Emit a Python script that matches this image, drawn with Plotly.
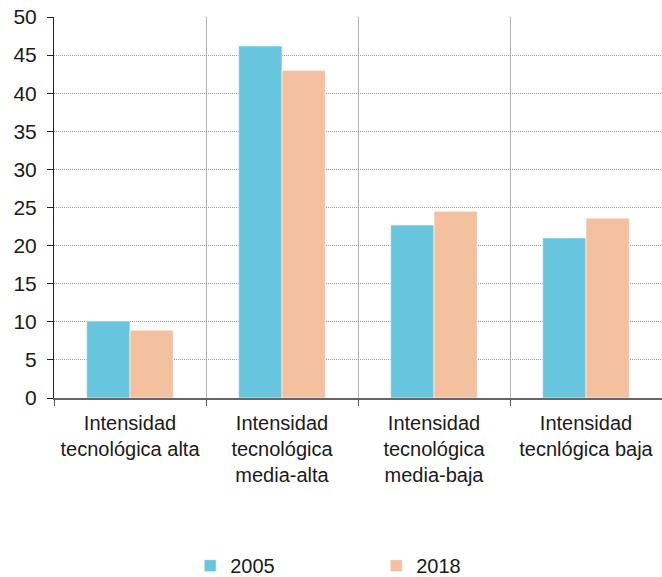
import plotly.graph_objects as go

categories = ["Intensidad<br>tecnológica alta", "Intensidad<br>tecnológica<br>media-alta",
              "Intensidad<br>tecnológica<br>media-baja", "Intensidad<br>tecnlógica baja"]
series_names = ["2005", "2018"]
values_2005 = [10.1, 46.2, 22.7, 21.0]
values_2018 = [8.9, 43.0, 24.5, 23.6]
y_ticks = [0, 5, 10, 15, 20, 25, 30, 35, 40, 45, 50]

colors = ["#67C5DE", "#F4C1A0"]

fig = go.Figure()
for name, vals, col in zip(series_names, [values_2005, values_2018], colors):
    fig.add_trace(go.Bar(x=categories, y=vals, name=name,
                         marker=dict(color=col, line=dict(color="rgba(255,255,255,0.6)", width=1))))

fig.update_layout(
    width=662, height=577,
    margin=dict(l=54, r=0, t=17, b=179, autoexpand=False),
    paper_bgcolor="white", plot_bgcolor="white",
    barmode="group", bargap=0.43, bargroupgap=0,
    font=dict(family="Liberation Sans, Arial, sans-serif", size=18, color="#1a1a1a"),
    showlegend=True,
    legend=dict(orientation="h", x=0.224, xanchor="left", y=-0.44, yanchor="middle",
                entrywidth=141, entrywidthmode="pixels", font=dict(size=20)),
    xaxis=dict(tickson="boundaries", showgrid=True, gridcolor="#b3b3b3", gridwidth=1,
               ticks="outside", ticklen=6, tickcolor="#555", showline=True, linecolor="#666",
               linewidth=2, tickfont=dict(size=20), tickangle=0, automargin=False,
               ticklabelstandoff=6),
    yaxis=dict(range=[0, 50], tickvals=y_ticks, showgrid=True, gridcolor="#999", griddash="1px,1px",
               gridwidth=1, ticks="outside", ticklen=6, tickcolor="#222", showline=True,
               linecolor="#222", linewidth=1, zeroline=False, tickfont=dict(size=21),
               automargin=False, ticklabelstandoff=6),
)

fig.write_html("out.html", config={"displayModeBar": False},
               post_script="document.body.style.margin='0';")
